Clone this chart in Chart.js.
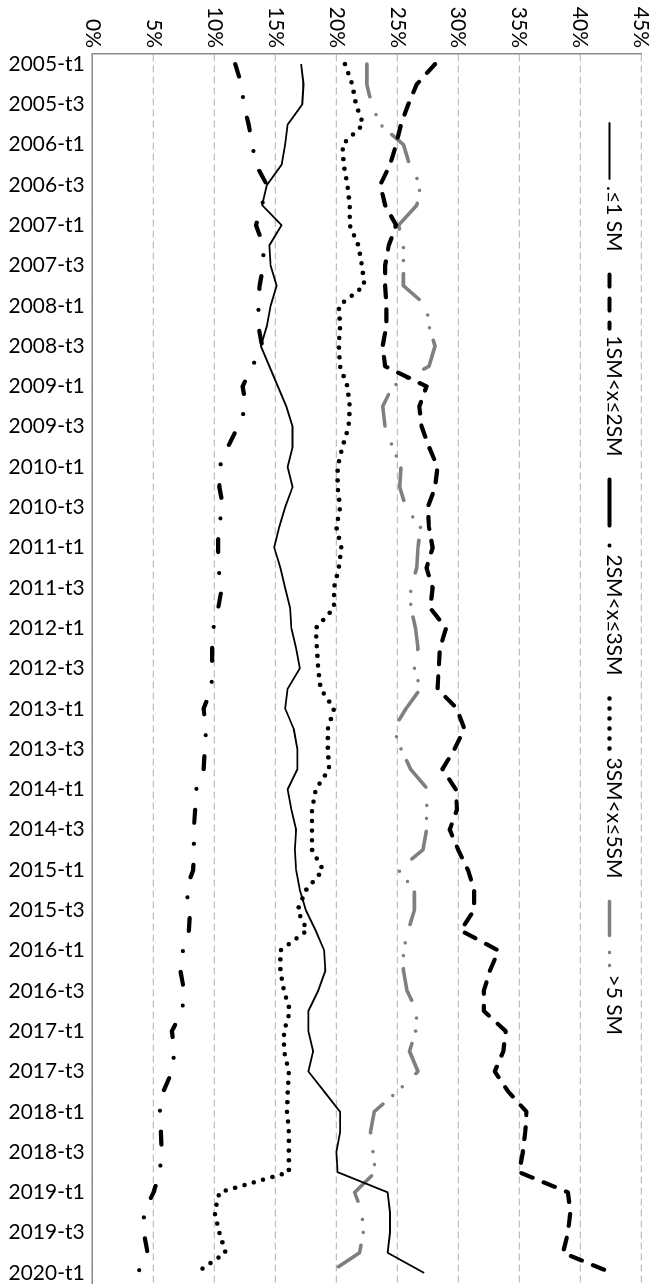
<!DOCTYPE html>
<html lang="es">
<head>
    <meta charset="UTF-8">
    <title>Distribución por rangos de salario mínimo</title>
    <script src="https://cdn.jsdelivr.net/npm/chart.js"></script>
    <style>
        html, body {
            margin: 0;
            padding: 0;
            background: #fff;
            overflow: hidden;
        }
        /* the chart is drawn lying down and turned a quarter clockwise */
        #wrap {
            position: absolute;
            left: 0;
            top: 0;
            width: 1285px;
            height: 657px;
            transform-origin: 0 0;
            transform: translate(657px, 0) rotate(90deg);
        }
    </style>
</head>
<body>
    <div id="wrap"><canvas id="chart" width="1285" height="657"></canvas></div>

    <script>
        // Quarters 2005-t1 ... 2020-t1
        const years = [2005, 2006, 2007, 2008, 2009, 2010, 2011, 2012, 2013, 2014, 2015, 2016, 2017, 2018, 2019];
        const quarters = [];
        years.forEach(y => ['t1', 't2', 't3', 't4'].forEach(t => quarters.push(y + '-' + t)));
        quarters.push('2020-t1');

        const seriesNames = ['.≤1 SM', '1SM<x≤2SM', '2SM<x≤3SM', '3SM<x≤5SM', '>5 SM'];

        // shares in %
        const upTo1 = [
            17.1, 17.3, 17.2, 16.0, 15.8, 15.5, 14.3, 13.9, 15.5,
            14.5, 14.6, 15.1, 14.6, 14.3, 13.8, 14.5, 15.2,
            15.9, 16.4, 16.4, 16.0, 16.4, 15.8, 15.3, 14.9, 15.4,
            15.8, 16.2, 16.3, 16.7, 17.0, 16.0, 15.8, 16.5,
            16.8, 16.8, 16.0, 16.3, 16.7, 16.6, 16.7, 17.0, 17.5,
            18.3, 19.0, 19.1, 18.5, 17.7, 17.7, 18.1, 17.7,
            19.0, 20.3, 20.3, 20.0, 20.1, 24.2, 24.4, 24.4, 24.2, 27.2
        ];
        const from1to2 = [
            28.1, 26.6, 25.9, 25.3, 24.9, 24.4, 23.6, 24.0, 24.9,
            24.3, 24.0, 24.0, 24.1, 24.1, 23.8, 24.0, 27.4,
            26.8, 27.0, 27.6, 28.3, 28.1, 27.5, 27.6, 27.9, 27.4,
            27.9, 27.7, 29.0, 28.5, 28.4, 28.3, 29.9, 30.5,
            29.7, 28.7, 29.8, 29.9, 29.3, 30.0, 30.8, 31.3, 31.3,
            30.2, 33.3, 32.6, 32.1, 32.1, 33.9, 33.7, 33.0,
            34.1, 35.6, 35.5, 35.3, 35.0, 39.0, 39.2, 39.0, 38.6, 42.6
        ];
        const from2to3 = [
            11.7, 12.2, 12.4, 12.8, 13.1, 13.4, 14.3, 13.9, 13.4,
            14.0, 14.0, 13.7, 13.6, 13.6, 13.9, 13.1, 12.3,
            12.6, 11.9, 11.1, 10.4, 10.4, 10.7, 10.3, 10.3, 10.3,
            10.6, 10.3, 9.9, 9.8, 9.8, 9.75, 9.1, 9.3,
            9.2, 9.1, 8.5, 8.4, 8.3, 8.3, 8.25, 7.65, 8.0,
            7.9, 7.4, 7.2, 7.5, 7.35, 6.5, 6.7, 6.5,
            5.8, 5.5, 5.6, 5.65, 5.5, 5.0, 4.2, 4.2, 4.5, 3.7
        ];
        const from3to5 = [
            20.7, 21.3, 21.6, 22.2, 20.5, 20.6, 20.9, 21.1, 21.1,
            21.8, 22.1, 22.3, 20.2, 20.3, 20.2, 20.3, 20.9,
            21.1, 21.0, 20.5, 20.1, 20.1, 20.3, 20.0, 20.4, 20.2,
            19.8, 19.8, 18.3, 18.4, 18.5, 18.7, 19.8, 19.3,
            19.3, 19.4, 18.3, 18.0, 18.0, 18.0, 18.9, 17.5, 16.8,
            17.6, 15.4, 15.4, 15.7, 16.2, 15.7, 15.7, 16.1,
            16.0, 15.95, 16.1, 16.1, 16.1, 10.4, 10.0, 10.4, 10.9, 8.5
        ];
        const over5 = [
            22.5, 22.5, 22.9, 23.6, 25.5, 26.0, 26.9, 26.6, 25.1,
            25.5, 25.5, 25.5, 27.4, 27.6, 28.1, 27.6, 24.6,
            23.8, 24.0, 24.6, 25.3, 25.2, 25.7, 26.9, 26.7, 26.6,
            26.1, 26.1, 26.5, 26.7, 26.4, 26.9, 25.7, 24.7,
            25.3, 26.1, 27.5, 27.4, 27.4, 27.1, 25.1, 26.4, 26.4,
            25.9, 25.5, 25.5, 25.8, 26.6, 26.5, 26.0, 26.7,
            25.0, 23.1, 22.8, 23.0, 23.2, 21.5, 22.1, 22.2, 21.9, 19.4
        ];

        const pctTicks = [0, 5, 10, 15, 20, 25, 30, 35, 40, 45];

        const FONT = 'Lato, "Liberation Sans", sans-serif';

        // legend drawn by hand inside the plot (Excel style)
        const legendSamples = [
            { len: 56, dash: [] },
            { len: 54, dash: [12, 12] },
            { len: 68, dash: [46, 20, 0, 100] },
            { len: 52, dash: [0, 10] },
            { len: 66, dash: [34, 17, 0, 13, 0, 40] }
        ];

        const legendPlugin = {
            id: 'sideLegend',
            afterDraw(chart) {
                const ctx = chart.ctx;
                let x = 123;
                const lineY = 47.5;
                ctx.save();
                ctx.font = '21px ' + FONT;
                ctx.textBaseline = 'alphabetic';
                ctx.textAlign = 'left';
                chart.data.datasets.forEach((ds, i) => {
                    const s = legendSamples[i];
                    ctx.beginPath();
                    ctx.strokeStyle = ds.borderColor;
                    ctx.lineWidth = ds.borderWidth;
                    ctx.lineCap = 'round';
                    ctx.setLineDash(s.dash);
                    ctx.moveTo(x, lineY);
                    ctx.lineTo(x + s.len, lineY);
                    ctx.stroke();
                    ctx.setLineDash([]);
                    x += s.len + 7;
                    ctx.fillStyle = '#000';
                    ctx.fillText(ds.label, x, 50);
                    x += ctx.measureText(ds.label).width + 23;
                });
                ctx.restore();
            }
        };

        const ctx = document.getElementById('chart').getContext('2d');
        new Chart(ctx, {
            type: 'line',
            data: {
                labels: quarters,
                datasets: [
                    { label: seriesNames[0], data: upTo1, borderColor: '#000', borderWidth: 1.8, borderDash: [] },
                    { label: seriesNames[1], data: from1to2, borderColor: '#000', borderWidth: 4.2, borderDash: [12, 12], borderCapStyle: 'round' },
                    { label: seriesNames[2], data: from2to3, borderColor: '#000', borderWidth: 4.2, borderDash: [13, 21, 0, 21], borderCapStyle: 'round' },
                    { label: seriesNames[3], data: from3to5, borderColor: '#000', borderWidth: 4.6, borderDash: [0, 9.7], borderCapStyle: 'round' },
                    { label: seriesNames[4], data: over5, borderColor: '#7f7f7f', borderWidth: 3.6, borderDash: [33, 19, 0, 13, 0, 13], borderCapStyle: 'round' }
                ]
            },
            options: {
                responsive: false,
                animation: false,
                devicePixelRatio: 1,
                layout: { padding: { top: 16, right: 2, left: 0, bottom: 0 } },
                elements: {
                    point: { radius: 0 },
                    line: { tension: 0, fill: false, borderJoinStyle: 'round' }
                },
                plugins: {
                    legend: { display: false },
                    tooltip: { enabled: false }
                },
                scales: {
                    x: {
                        offset: true,
                        grid: { display: false, drawTicks: false },
                        border: { color: '#8c8c8c', width: 1.5 },
                        ticks: {
                            autoSkip: false,
                            minRotation: 90,
                            maxRotation: 90,
                            padding: 8,
                            color: '#000',
                            font: { family: FONT, size: 21 },
                            callback: function (v, i) {
                                return i % 2 === 0 ? this.getLabelForValue(v) : '';
                            }
                        },
                        afterFit: s => {
                            s.height = 92.7;
                            s.paddingLeft = 0;
                            s.paddingRight = 0;
                        }
                    },
                    y: {
                        min: pctTicks[0],
                        max: pctTicks[pctTicks.length - 1],
                        afterBuildTicks: s => { s.ticks = pctTicks.map(v => ({ value: v })); },
                        grid: { color: '#bfbfbf', lineWidth: 1.3, drawTicks: false },
                        border: { color: '#8c8c8c', width: 1.5, dash: [7, 4] },
                        ticks: {
                            padding: 6,
                            color: '#000',
                            font: { family: FONT, size: 21 },
                            callback: v => v + '%'
                        },
                        afterFit: s => {
                            s.width = 54;
                            s.paddingTop = 0;
                            s.paddingBottom = 0;
                        }
                    }
                }
            },
            plugins: [legendPlugin]
        });
    </script>
</body>
</html>
